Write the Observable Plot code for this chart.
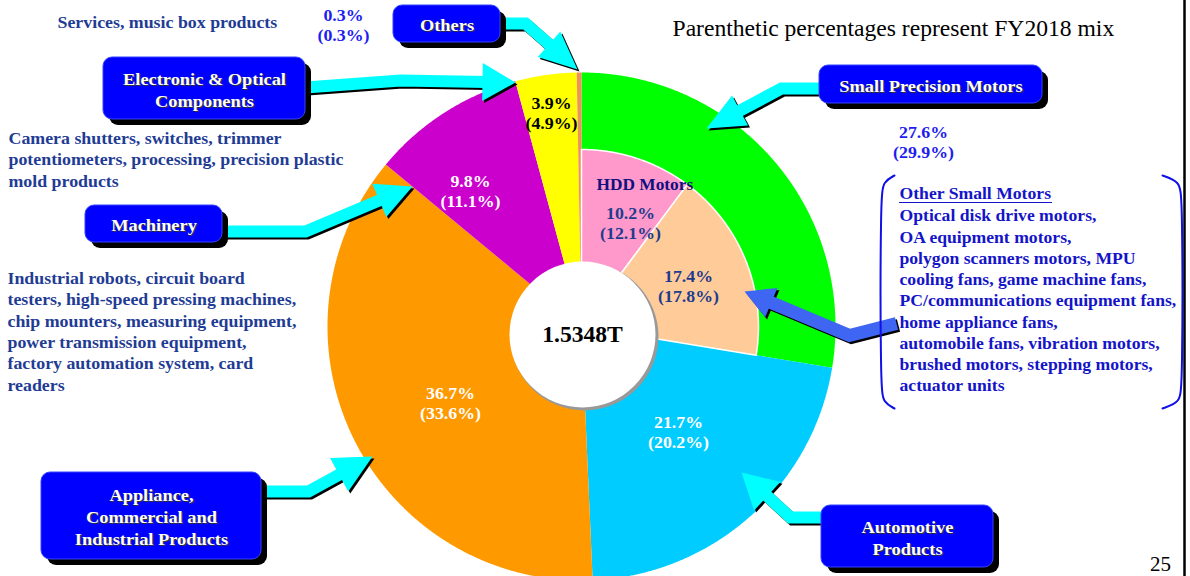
<!DOCTYPE html>
<html><head><meta charset="utf-8">
<script src="https://cdn.jsdelivr.net/npm/d3@7"></script>
<script src="https://cdn.jsdelivr.net/npm/@observablehq/plot@0.6"></script>
<style>html,body{margin:0;padding:0;background:#fff;overflow:hidden}</style>
</head><body><div id="chart"></div>
<script>
// ---------------- DATA ----------------
const segments = ["Small Precision Motors", "Automotive\nProducts", "Appliance,\nCommercial and\nIndustrial Products", "Machinery", "Electronic & Optical\nComponents", "Others"];
const share2019 = [27.6, 21.7, 36.7, 9.8, 3.9, 0.3];
const share2018 = [29.9, 20.2, 33.6, 11.1, 4.9, 0.3];
const segColors = ["#00FF00", "#00CCFF", "#FF9900", "#CC00CC", "#FFFF00", "#F0905A"];
const subSegments = ["HDD Motors", "Other Small Motors"];
const subShare2019 = [10.2, 17.4];
const subShare2018 = [12.1, 17.8];
const subColors = ["#FF99CC", "#FFCC99"];
const totalLabel = "1.5348T";
const noteText = "Parenthetic percentages represent FY2018 mix";
const descOthers = "Services, music box products";
const descElectronic = "Camera shutters, switches, trimmer\npotentiometers, processing, precision plastic\nmold products";
const descMachinery = "Industrial robots, circuit board\ntesters, high-speed pressing machines,\nchip mounters, measuring equipment,\npower transmission equipment,\nfactory automation system, card\nreaders";
const descOtherSmall = "Optical disk drive motors,\nOA equipment motors,\npolygon scanners motors, MPU\ncooling fans, game machine fans,\nPC/communications equipment fans,\nhome appliance fans,\nautomobile fans, vibration motors,\nbrushed motors, stepping motors,\nactuator units";
const pageNumber = "25";

// ---------------- LAYOUT ----------------
const W = 1190, H = 576;
const CX = 581, CY = 326, R_OUT = 254, R_RING = 177;
const HOLE = {x: 582, y: 334, r: 73};
const FONT = "Liberation Serif, Times New Roman, serif";
const STRETCH = 1.05; // horizontal stretch of the slide's lettering

const pct = (a, b) => `${a.toFixed(1)}%\n(${b.toFixed(1)}%)`;

function pt(deg, r) {
  const a = deg * Math.PI / 180;
  return [CX + r * Math.sin(a), CY - r * Math.cos(a)];
}
function wedge(a0, a1, r0, r1, close) {
  const n = Math.max(2, Math.ceil((a1 - a0) / 0.25));
  const out = [];
  for (let i = 0; i <= n; i++) out.push(pt(a0 + (a1 - a0) * i / n, r1));
  if (r0 > 0) { for (let i = n; i >= 0; i--) out.push(pt(a0 + (a1 - a0) * i / n, r0)); }
  else out.push([CX, CY]);
  if (close) out.push(out[0]);
  return out.map(([x, y]) => ({x, y}));
}

const total = d3.sum(share2019);
const ends = d3.cumsum(share2019).map(v => v / total * 360);
const starts = [0, ...ends.slice(0, -1)];
const subEnds = d3.cumsum(subShare2019).map(v => v / total * 360);
const subStarts = [0, ...subEnds.slice(0, -1)];

// positions of labels / boxes (layout only)
const boxPos = [
  {x1: 819, x2: 1042, y1: 65, y2: 103},
  {x1: 821, x2: 993, y1: 505, y2: 567},
  {x1: 41, x2: 261, y1: 472, y2: 559},
  {x1: 85, x2: 222, y1: 205, y2: 242},
  {x1: 103, x2: 305, y1: 57, y2: 119},
  {x1: 393, x2: 500, y1: 5, y2: 42}
];
const pctPos = [
  {x: 923, y: 141, fill: "#1E1EF0"},
  {x: 678, y: 431, fill: "white"},
  {x: 450, y: 402, fill: "white"},
  {x: 470, y: 190, fill: "white"},
  {x: 551, y: 112, fill: "black"},
  {x: 343, y: 24, fill: "#1E1EF0"}
];
const subPctPos = [{x: 630, y: 222}, {x: 688, y: 285}];
const arrowPts = [
  [[819, 88], [781, 88], [706, 128]],
  [[821, 517], [790, 517], [741, 472]],
  [[262, 491], [308, 491], [372, 456]],
  [[222, 231], [305, 231], [412, 186]],
  [[305, 87], [400, 80], [515, 82]],
  [[500, 23], [525, 23], [577, 69]]
];
const arrowHead = [[38, 34], [35, 39], [38, 38], [36, 36], [33, 38], [38, 34]];
const blueArrowPts = [[896, 323], [849, 335], [744, 291]];

function arrowGeom(pts, headLen, headW) {
  const tip = pts[pts.length - 1], prev = pts[pts.length - 2];
  const dx = tip[0] - prev[0], dy = tip[1] - prev[1], L = Math.hypot(dx, dy);
  const ux = dx / L, uy = dy / L, nx = -uy, ny = ux;
  const bx = tip[0] - ux * headLen, by = tip[1] - uy * headLen;
  const head = [[bx + nx * headW / 2, by + ny * headW / 2], tip, [bx - nx * headW / 2, by - ny * headW / 2]].map(([x, y]) => ({x, y}));
  const shaft = [...pts.slice(0, -1), [bx + ux * 3, by + uy * 3]].map(([x, y]) => ({x, y}));
  return {shaft, head};
}
function arrowMarks(pts, hl, hw, color, sw) {
  const g = arrowGeom(pts, hl, hw);
  const common = {x: "x", y: "y", curve: "linear", strokeLinecap: "butt", strokeLinejoin: "miter", strokeMiterlimit: 4};
  return [
    Plot.line(g.shaft, {...common, stroke: "black", strokeWidth: sw, dx: 2, dy: 2}),
    Plot.line(g.head, {...common, fill: "black", stroke: "none", dx: 2, dy: 2}),
    Plot.line(g.shaft, {...common, stroke: color, strokeWidth: sw}),
    Plot.line(g.head, {...common, fill: color, stroke: "none"})
  ];
}

const marks = [];
// outer slices
segments.forEach((s, i) => {
  const r0 = i === 0 ? R_RING : 0;
  marks.push(Plot.line(wedge(starts[i], ends[i], r0, R_OUT, false), {x: "x", y: "y", fill: segColors[i], stroke: "none", curve: "linear"}));
});
// inner sub slices
subSegments.forEach((s, i) => {
  marks.push(Plot.line(wedge(subStarts[i], subEnds[i], 0, R_RING, true), {x: "x", y: "y", fill: subColors[i], stroke: "white", strokeWidth: 1.5, curve: "linear"}));
});
// hole
marks.push(Plot.dot([HOLE], {x: "x", y: "y", r: HOLE.r + 1, fill: "#999", stroke: "none", dx: 2, dy: 2}));
marks.push(Plot.dot([HOLE], {x: "x", y: "y", r: HOLE.r, fill: "white", stroke: "none"}));
marks.push(Plot.text([totalLabel], {x: HOLE.x, y: HOLE.y, text: d => d, fontSize: 22.5, fontWeight: "bold", fill: "black", fontFamily: FONT}));

// arrows
arrowPts.forEach((p, i) => marks.push(...arrowMarks(p, arrowHead[i][0], arrowHead[i][1], "#00FFFF", 12)));
marks.push(...arrowMarks(blueArrowPts, 29, 32, "#3F66F2", 13));

// boxes
const boxData = segments.map((s, i) => ({label: s, ...boxPos[i]}));
marks.push(Plot.rect(boxData, {x1: "x1", x2: "x2", y1: "y1", y2: "y2", rx: 9, fill: "black", dx: 6, dy: 6}));
marks.push(Plot.rect(boxData, {x1: "x1", x2: "x2", y1: "y1", y2: "y2", rx: 9, fill: "#0000FF", stroke: "#3344FF", strokeWidth: 1}));
marks.push(Plot.text(boxData, {x: d => (d.x1 + d.x2) / 2, y: d => (d.y1 + d.y2) / 2, text: "label", fill: "#333", dx: 1.2, dy: 1.2, fontSize: 17.5, fontWeight: "bold", lineHeight: 1.26, fontFamily: FONT}));
marks.push(Plot.text(boxData, {x: d => (d.x1 + d.x2) / 2, y: d => (d.y1 + d.y2) / 2, text: "label", fill: "white", fontSize: 17.5, fontWeight: "bold", lineHeight: 1.26, fontFamily: FONT}));

// percentage labels
const pctData = segments.map((s, i) => ({t: pct(share2019[i], share2018[i]), ...pctPos[i]}));
marks.push(Plot.text(pctData, {x: "x", y: "y", text: "t", fill: d => d.fill, fontSize: 17, fontWeight: "bold", lineHeight: 1.15, fontFamily: FONT}));
const subData = subSegments.map((s, i) => ({t: pct(subShare2019[i], subShare2018[i]), ...subPctPos[i]}));
marks.push(Plot.text(subData, {x: "x", y: "y", text: "t", fill: "#1F3C8C", fontSize: 17, fontWeight: "bold", lineHeight: 1.15, fontFamily: FONT}));
marks.push(Plot.text([subSegments[0]], {x: 596, y: 184, text: d => d, textAnchor: "start", fill: "#10107E", fontSize: 16.5, fontWeight: "bold", fontFamily: FONT}));

// descriptions
const descColor = "#1F3C94";
marks.push(Plot.text([descOthers], {x: 57, y: 22, text: d => d, textAnchor: "start", fill: descColor, fontSize: 17, fontWeight: "bold", fontFamily: FONT}));
marks.push(Plot.text([descElectronic], {x: 8, y: 158, text: d => d, textAnchor: "start", fill: descColor, fontSize: 17, fontWeight: "bold", lineHeight: 1.25, fontFamily: FONT}));
marks.push(Plot.text([descMachinery], {x: 7, y: 330, text: d => d, textAnchor: "start", fill: descColor, fontSize: 17, fontWeight: "bold", lineHeight: 1.255, fontFamily: FONT}));
marks.push(Plot.text([subSegments[1]], {x: 899, y: 193, text: d => d, textAnchor: "start", fill: "#1414C8", fontSize: 16.8, fontWeight: "bold", fontFamily: FONT}));
marks.push(Plot.line([{x: 899, y: 202}, {x: 1051, y: 202}], {x: "x", y: "y", stroke: "#1414C8", strokeWidth: 1.2}));
marks.push(Plot.text([descOtherSmall], {x: 899, y: 299, text: d => d, textAnchor: "start", fill: "#1414C8", fontSize: 16.8, fontWeight: "bold", lineHeight: 1.265, fontFamily: FONT}));

// brackets
const bracketL = [{x: 894, y: 175}, {x: 883, y: 181}, {x: 880, y: 196}, {x: 880, y: 388}, {x: 883, y: 402}, {x: 894, y: 408}];
const bracketR = bracketL.map(p => ({x: 880 + 1182 - p.x + (p.x > 885 ? -6 : 0), y: p.y}));
marks.push(Plot.line(bracketL, {x: "x", y: "y", stroke: "#1010E8", strokeWidth: 2, curve: "basis"}));
marks.push(Plot.line(bracketR, {x: "x", y: "y", stroke: "#1010E8", strokeWidth: 2, curve: "basis"}));

// note, page number, right rule
marks.push(Plot.text([noteText], {x: 672, y: 28, text: d => d, textAnchor: "start", fill: "black", fontSize: 22.5, fontFamily: FONT}));
marks.push(Plot.text([pageNumber], {x: 1160, y: 564, text: d => d, fill: "black", fontSize: 20, fontFamily: FONT}));
marks.push(Plot.ruleX([1184], {stroke: "black", strokeWidth: 2.5, y1: 0, y2: H}));

const chart = Plot.plot({
  width: W, height: H,
  margin: 0,
  x: {domain: [0, W], range: [0, W], axis: null},
  y: {domain: [0, H], range: [0, H], axis: null},
  style: {background: "white", fontFamily: FONT, overflow: "hidden"},
  marks
});
// widen lettering slightly, as on the original slide
d3.select(chart).selectAll("text").each(function () {
  const t = this.getAttribute("transform");
  if (t) this.setAttribute("transform", `${t} scale(${STRETCH},1)`);
});
document.getElementById("chart").appendChild(chart);
</script>
</body></html>
